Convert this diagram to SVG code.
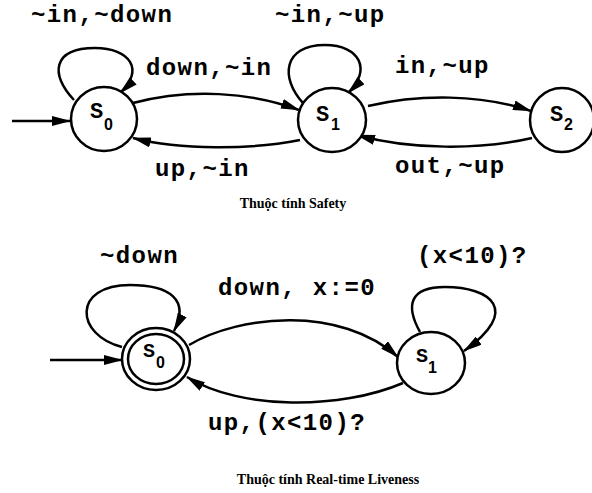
<svg xmlns="http://www.w3.org/2000/svg" width="592" height="493" viewBox="0 0 592 493">
  <style>
    .state { fill: #fff; stroke: #000; stroke-width: 2.5; }
    .edge { fill: none; stroke: #000; stroke-width: 2.5; marker-end: url(#arrow); }
    .lbl { font-family: "Liberation Mono", "Courier New", monospace; font-weight: bold; font-size: 24px; letter-spacing: 1.4px; fill: #000; }
    .sname { font-family: "Liberation Mono", "Courier New", monospace; font-weight: bold; font-size: 22px; fill: #000; }
    .sname.small { font-size: 20px; }
    .sub { font-family: "Liberation Sans", Arial, sans-serif; font-weight: bold; font-size: 16px; fill: #000; }
    .title { font-family: "Liberation Serif", "Times New Roman", serif; font-weight: bold; font-size: 14px; fill: #000; text-anchor: middle; }
  </style>
  <defs>
    <marker id="arrow" markerUnits="userSpaceOnUse" markerWidth="19" markerHeight="10" refX="18" refY="5" orient="auto">
      <path d="M0,0 L19,5 L0,10 z" fill="#000"/>
    </marker>
  </defs>
  <rect width="592" height="493" fill="#fff"/>

  <!-- Safety automaton -->
  <g id="connectors-safety">
    <path class="edge" d="M12,121 L70,121"/>
    <path class="edge" d="M74,100 C50,75 52,48 95,48 C130,48 145,70 120,93"/>
    <path class="edge" d="M133,103 C190,88 250,92 299,110"/>
    <path class="edge" d="M300,140 C250,150 180,150 133,138"/>
    <path class="edge" d="M303,103 C280,78 283,45 325,45 C360,45 372,70 348,93"/>
    <path class="edge" d="M368,106 C420,94 480,94 531,111"/>
    <path class="edge" d="M532,138 C480,150 410,150 357,135"/>
  </g>
  <g id="s0-safety">
    <ellipse class="state" cx="104" cy="119" rx="33" ry="32"/>
    <text class="sname" x="90" y="118">S</text>
    <text class="sub" x="104" y="130">0</text>
  </g>
  <g id="s1-safety">
    <ellipse class="state" cx="332" cy="120" rx="34" ry="32"/>
    <text class="sname" x="316" y="121">S</text>
    <text class="sub" x="331" y="130">1</text>
  </g>
  <g id="s2-safety">
    <ellipse class="state" cx="562" cy="120" rx="32" ry="32"/>
    <text class="sname" x="550" y="121">S</text>
    <text class="sub" x="564" y="130">2</text>
  </g>
  <g id="labels-safety">
    <text class="lbl" x="31" y="22">~in,~down</text>
    <text class="lbl" x="275" y="22">~in,~up</text>
    <text class="lbl" x="146" y="75">down,~in</text>
    <text class="lbl" x="395" y="73">in,~up</text>
    <text class="lbl" x="155" y="176">up,~in</text>
    <text class="lbl" x="395" y="173">out,~up</text>
  </g>
  <text class="title" x="293" y="208">Thuộc tính Safety</text>

  <!-- Real-time liveness automaton -->
  <g id="connectors-liveness">
    <path class="edge" d="M50,360 L122,360"/>
    <path class="edge" d="M122,347 C75,335 72,285 130,285 C170,285 190,300 174,331"/>
    <path class="edge" d="M189,345 C240,315 340,305 398,357"/>
    <path class="edge" d="M403,383 C340,410 240,410 187,377"/>
    <path class="edge" d="M420,332 C405,305 410,287 445,287 C490,287 522,310 464,351"/>
  </g>
  <g id="s0-liveness">
    <ellipse class="state" cx="156" cy="359" rx="34" ry="31"/>
    <ellipse class="state" cx="156" cy="359" rx="28" ry="25"/>
    <text class="sname small" x="143" y="357">S</text>
    <text class="sub" x="156" y="368">0</text>
  </g>
  <g id="s1-liveness">
    <ellipse class="state" cx="431" cy="363" rx="34" ry="31"/>
    <text class="sname small" x="416" y="362">S</text>
    <text class="sub" x="428" y="373">1</text>
  </g>
  <g id="labels-liveness">
    <text class="lbl" x="100" y="263">~down</text>
    <text class="lbl" x="218" y="295">down, x:=0</text>
    <text class="lbl" x="417" y="263">(x&lt;10)?</text>
    <text class="lbl" x="208" y="430">up,(x&lt;10)?</text>
  </g>
  <text class="title" x="328" y="484">Thuộc tính Real-time Liveness</text>
</svg>
